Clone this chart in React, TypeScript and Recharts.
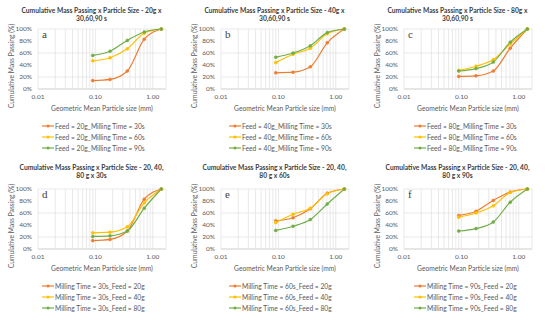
import { LineChart, Line, XAxis, YAxis, CartesianGrid, Legend } from "recharts";

// geometric mean particle size (mm) of each sieve fraction
const sizes = [0.09, 0.18, 0.36, 0.71, 1.41];

// cumulative mass passing (%) per feed mass / milling time
const feed20_30s = [14, 16, 30, 83, 100];
const feed20_60s = [47, 52, 67, 93, 100];
const feed20_90s = [56, 63, 81, 95, 100];
const feed40_30s = [27, 28, 37, 77, 100];
const feed40_60s = [44, 58, 68, 92, 100];
const feed40_90s = [53, 60, 72, 94, 100];
const feed80_30s = [21, 22, 30, 68, 100];
const feed80_60s = [31, 38, 49, 75, 100];
const feed80_90s = [30, 34, 45, 78, 100];

const majorTicks = [0.01, 0.1, 1];
const minorTicks = [
  0.02, 0.03, 0.04, 0.05, 0.06, 0.07, 0.08, 0.09,
  0.2, 0.3, 0.4, 0.5, 0.6, 0.7, 0.8, 0.9,
];
const yTicks = [0, 20, 40, 60, 80, 100];

const colors = ["#ED7D31", "#FFC000", "#70AD47"];
const font = "Lato, 'Liberation Sans', sans-serif";
const textGray = "#595959";

interface PanelDef {
  letter: string;
  title: [string, string];
  series: number[][];
  names: string[];
}

const panels: PanelDef[] = [
  {
    letter: "a",
    title: ["Cumulative Mass Passing x Particle Size - 20g x", "30,60,90 s"],
    series: [feed20_30s, feed20_60s, feed20_90s],
    names: [
      "Feed = 20g_Milling Time = 30s",
      "Feed = 20g_Milling Time = 60s",
      "Feed = 20g_Milling Time = 90s",
    ],
  },
  {
    letter: "b",
    title: ["Cumulative Mass Passing x Particle Size - 40g x", "30,60,90 s"],
    series: [feed40_30s, feed40_60s, feed40_90s],
    names: [
      "Feed = 40g_Milling Time = 30s",
      "Feed = 40g_Milling Time = 60s",
      "Feed = 40g_Milling Time = 90s",
    ],
  },
  {
    letter: "c",
    title: ["Cumulative Mass Passing x Particle Size - 80g x", "30,60,90 s"],
    series: [feed80_30s, feed80_60s, feed80_90s],
    names: [
      "Feed = 80g_Milling Time = 30s",
      "Feed = 80g_Milling Time = 60s",
      "Feed = 80g_Milling Time = 90s",
    ],
  },
  {
    letter: "d",
    title: ["Cumulative Mass Passing x Particle Size - 20, 40,", "80 g x 30s"],
    series: [feed20_30s, feed40_30s, feed80_30s],
    names: [
      "Milling Time = 30s_Feed = 20g",
      "Milling Time = 30s_Feed = 40g",
      "Milling Time = 30s_Feed = 80g",
    ],
  },
  {
    letter: "e",
    title: ["Cumulative Mass Passing x Particle Size - 20, 40,", "80 g x 60s"],
    series: [feed20_60s, feed40_60s, feed80_60s],
    names: [
      "Milling Time = 60s_Feed = 20g",
      "Milling Time = 60s_Feed = 40g",
      "Milling Time = 60s_Feed = 80g",
    ],
  },
  {
    letter: "f",
    title: ["Cumulative Mass Passing x Particle Size - 20, 40,", "80 g x 90s"],
    series: [feed20_90s, feed40_90s, feed80_90s],
    names: [
      "Milling Time = 90s_Feed = 20g",
      "Milling Time = 90s_Feed = 40g",
      "Milling Time = 90s_Feed = 80g",
    ],
  },
];

const renderLegend = (props: any) => (
  <div style={{ fontFamily: font }}>
    {(props.payload || []).map((e: any) => (
      <div
        key={e.value}
        style={{ display: "flex", alignItems: "center", height: 11 }}
      >
        <svg width={12} height={6} style={{ display: "block" }}>
          <line x1={0} y1={3} x2={12} y2={3} stroke={e.color} strokeWidth={1.2} />
          <circle cx={6} cy={3} r={1.5} fill={e.color} />
        </svg>
        <span style={{ marginLeft: 1, fontSize: 6.7, color: textGray, whiteSpace: "nowrap" }}>
          {e.value}
        </span>
      </div>
    ))}
  </div>
);

function Panel({
  p,
  left,
  top,
  titleTop,
  legendLeft,
}: {
  p: PanelDef;
  left: number;
  top: number;
  titleTop: number;
  legendLeft: number;
}) {
  const data = sizes.map((x, i) => ({
    x,
    s0: p.series[0][i],
    s1: p.series[1][i],
    s2: p.series[2][i],
  }));
  return (
    <div style={{ position: "absolute", left, top, width: 183, height: 160 }}>
      <div
        style={{
          position: "absolute",
          top: titleTop,
          left: 0,
          width: 183,
          textAlign: "center",
          fontFamily: font,
          fontSize: 6.7,
          fontWeight: 700,
          lineHeight: "8px",
          color: "#404040",
          zIndex: 2,
          whiteSpace: "nowrap",
        }}
      >
        {p.title[0]}
        <br />
        {p.title[1]}
      </div>
      <div
        style={{
          position: "absolute",
          left: 42,
          top: 28,
          fontFamily: "'Liberation Serif', 'DejaVu Serif', serif",
          fontSize: 11,
          color: "#404040",
          zIndex: 2,
        }}
      >
        {p.letter}
      </div>
      <LineChart
        width={183}
        height={160}
        data={data}
        margin={{ top: 29, right: 17, left: 8, bottom: 45 }}
      >
        <CartesianGrid stroke="#e3e3e3" strokeWidth={0.8} />
        <XAxis
          dataKey="x"
          type="number"
          scale="log"
          domain={[0.01, 1.7]}
          allowDataOverflow
          ticks={[...majorTicks, ...minorTicks].sort((a, b) => a - b)}
          interval={0}
          tickFormatter={(v: number) =>
            majorTicks.includes(v) ? v.toFixed(2) : ""
          }
          tick={{ fill: textGray, fontSize: 6.5, fontFamily: font }}
          tickLine={false}
          tickSize={4}
          tickMargin={1}
          axisLine={{ stroke: "#d9d9d9" }}
          height={26}
          label={{
            value: "Geometric Mean Particle size (mm)",
            position: "insideBottom",
            offset: 4,
            fill: textGray,
            fontSize: 6.7,
            fontFamily: font,
          }}
        />
        <YAxis
          type="number"
          domain={[0, 100]}
          ticks={yTicks}
          tickFormatter={(v: number) => `${v}%`}
          tick={{ fill: textGray, fontSize: 6.5, fontFamily: font }}
          tickLine={false}
          tickSize={4}
          tickMargin={2}
          axisLine={false}
          width={30}
          label={{
            value: "Cumulative Mass Passing (%)",
            angle: -90,
            position: "insideLeft",
            offset: 4,
            dy: 7,
            fill: textGray,
            fontSize: 6.7,
            fontFamily: font,
            style: { textAnchor: "middle" },
          }}
        />
        <Legend
          layout="horizontal"
          verticalAlign="middle"
          align="center"
          content={renderLegend}
          wrapperStyle={{ top: 120.5, left: legendLeft, width: 135, height: 34 }}
        />
        {p.names.map((name, k) => (
          <Line
            key={name}
            type="monotone"
            dataKey={`s${k}`}
            name={name}
            stroke={colors[k]}
            strokeWidth={1.2}
            dot={{ r: 1.5, fill: colors[k], stroke: colors[k], strokeWidth: 0.5 }}
            isAnimationActive={false}
          />
        ))}
      </LineChart>
    </div>
  );
}

export default function App() {
  return (
    <div
      style={{
        position: "absolute",
        left: 0,
        top: 0,
        width: 550,
        height: 320,
        background: "#fff",
        overflow: "hidden",
      }}
    >
      {panels.map((p, i) => {
        const col = i % 3;
        const row = Math.floor(i / 3);
        return (
          <Panel
            key={p.letter}
            p={p}
            left={[0, 183, 366][col]}
            top={row * 160}
            titleTop={row === 0 ? 6 : 3}
            legendLeft={[42, 46, 48][col]}
          />
        );
      })}
    </div>
  );
}
